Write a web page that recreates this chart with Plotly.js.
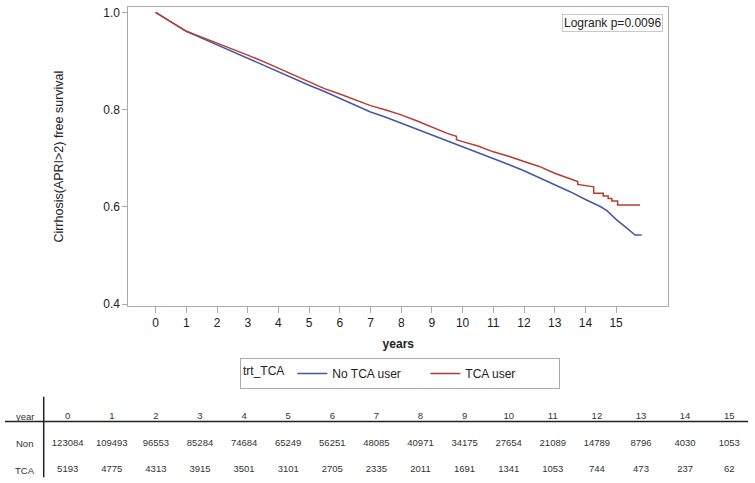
<!DOCTYPE html>
<html>
<head>
<meta charset="utf-8">
<script src="https://cdn.plot.ly/plotly-3.0.1.min.js"></script>
<style>
  html, body { margin: 0; padding: 0; background: #fff; }
  #chart { width: 755px; height: 483px; }
</style>
</head>
<body>
<div id="chart"></div>
<script>
// Kaplan-Meier estimates (duplicate x = a step)
const nonYears = [0, 0.5, 1, 1.5, 2, 2.5, 3, 3.5, 4, 4.5, 5, 5.5, 6, 6.5, 7, 7.5, 8, 8.5, 9, 9.5, 10,
  10.5, 11, 11.5, 12, 12.5, 13, 13.5, 14, 14.5, 14.7, 15, 15.35, 15.62, 15.83];
const nonSurv = [1.0, 0.980, 0.961, 0.947, 0.933, 0.919, 0.905, 0.891, 0.878, 0.864, 0.850, 0.837,
  0.823, 0.809, 0.795, 0.784, 0.772, 0.760, 0.748, 0.736, 0.723, 0.712, 0.700, 0.687, 0.674,
  0.660, 0.646, 0.631, 0.615, 0.600, 0.592, 0.574, 0.556, 0.542, 0.542];

const tcaYears = [0, 0.5, 1, 1.5, 2, 2.5, 3, 3.5, 4, 4.5, 5, 5.5, 6, 6.5, 7, 7.5, 8, 8.5, 9, 9.5,
  9.8, 9.8, 10, 10.5, 11, 11.5, 12, 12.5, 13, 13.5, 13.75, 13.75, 14, 14.27, 14.27, 14.58, 14.58,
  14.74, 14.74, 14.86, 14.86, 15.05, 15.05, 15.78];
const tcaSurv = [1.0, 0.980, 0.961, 0.949, 0.937, 0.925, 0.912, 0.899, 0.885, 0.871, 0.856, 0.843,
  0.832, 0.820, 0.808, 0.799, 0.789, 0.777, 0.764, 0.751, 0.745, 0.738, 0.734, 0.725, 0.713,
  0.704, 0.693, 0.683, 0.669, 0.657, 0.652, 0.646, 0.643, 0.641, 0.628, 0.628, 0.622, 0.622,
  0.617, 0.617, 0.612, 0.612, 0.6035, 0.6035];

// number at risk table
const riskYears = [0, 1, 2, 3, 4, 5, 6, 7, 8, 9, 10, 11, 12, 13, 14, 15];
const riskNon = [123084, 109493, 96553, 85284, 74684, 65249, 56251, 48085, 40971, 34175, 27654,
  21089, 14789, 8796, 4030, 1053];
const riskTca = [5193, 4775, 4313, 3915, 3501, 3101, 2705, 2335, 2011, 1691, 1341, 1053, 744,
  473, 237, 62];
const rowLabels = ["year", "Non", "TCA"];

const FONT = "Liberation Sans, Arial, sans-serif";
const BLUE = "#4457a6";
const RED = "#b83a30";
const BOX = "#aaaaaa";

function tableRow(row, vals) {
  return {
    x: riskYears, y: vals.map(() => row), text: vals.map(String),
    xaxis: "x2", yaxis: "y2", type: "scatter", mode: "text",
    textfont: { family: FONT, size: 9.5, color: "#333" },
    showlegend: false, hoverinfo: "skip",
  };
}

const traces = [
  {
    x: nonYears, y: nonSurv, name: "No TCA user", type: "scatter", mode: "lines",
    line: { color: BLUE, width: 1.5 },
  },
  {
    x: tcaYears, y: tcaSurv, name: "TCA user", type: "scatter", mode: "lines",
    line: { color: RED, width: 1.5 },
  },
  tableRow(0, riskYears),
  tableRow(1, riskNon),
  tableRow(2, riskTca),
];

const rowAnn = rowLabels.map((t, i) => ({
  text: t, xref: "paper", x: 24.5 / 755, xanchor: "center", yref: "y2", y: i, yanchor: "middle",
  showarrow: false, font: { family: FONT, size: 9.5, color: "#333" },
}));

const layout = {
  width: 755, height: 483,
  margin: { l: 0, r: 0, t: 0, b: 0 },
  paper_bgcolor: "#fff", plot_bgcolor: "#fff",
  font: { family: FONT, size: 12, color: "#222" },
  xaxis: {
    domain: [128.3 / 755, 668.3 / 755], range: [-0.89, 16.7],
    tickvals: riskYears, ticks: "outside", ticklen: 6, tickcolor: BOX,
    showline: true, mirror: true, linecolor: BOX, showgrid: false, zeroline: false,
    automargin: false,
    title: { text: "<b>years</b>", standoff: 10, font: { family: FONT, size: 12 } },
  },
  yaxis: {
    domain: [177 / 483, 475.7 / 483], range: [0.3959, 1.0103],
    tickvals: [0.4, 0.6, 0.8, 1.0], tickformat: ".1f",
    ticks: "outside", ticklen: 5, tickcolor: BOX,
    showline: true, mirror: true, linecolor: BOX, showgrid: false, zeroline: false,
    automargin: false,
    title: { text: "Cirrhosis(APRI>2) free survival", standoff: 36, font: { family: FONT, size: 12.5 } },
  },
  xaxis2: {
    domain: [0, 1], range: [-1.535, 15.585], anchor: "y2", visible: false, fixedrange: true,
  },
  yaxis2: {
    domain: [0, 0.2], range: [2.483, -1.135], anchor: "x2", visible: false, fixedrange: true,
  },
  legend: {
    orientation: "h", x: 400 / 755, xanchor: "center", y: (483 - 358) / 483, yanchor: "top",
    bordercolor: BOX, borderwidth: 1, font: { family: FONT, size: 12, color: "#222" },
    entrywidth: 88, valign: "middle",
    title: { text: "trt_TCA", side: "left", font: { family: FONT, size: 12, color: "#222" } },
  },
  annotations: [
    {
      text: "Logrank p=0.0096", xref: "paper", yref: "paper",
      x: 663.3 / 755, xanchor: "right", y: (483 - 14) / 483, yanchor: "top",
      showarrow: false, bordercolor: "#c8c8c8", borderwidth: 1, borderpad: 1,
      font: { family: FONT, size: 12, color: "#222" },
    },
    ...rowAnn,
  ],
  shapes: [
    { type: "line", xref: "paper", x0: 5 / 755, x1: 748 / 755, yref: "y2", y0: 0.175, y1: 0.175,
      line: { color: "#222", width: 1.5 } },
    { type: "line", xref: "paper", x0: 43.7 / 755, x1: 43.7 / 755, yref: "y2", y0: -0.75, y1: 2.27,
      line: { color: "#222", width: 1.5 } },
  ],
};

Plotly.newPlot("chart", traces, layout, { staticPlot: true });
</script>
</body>
</html>
